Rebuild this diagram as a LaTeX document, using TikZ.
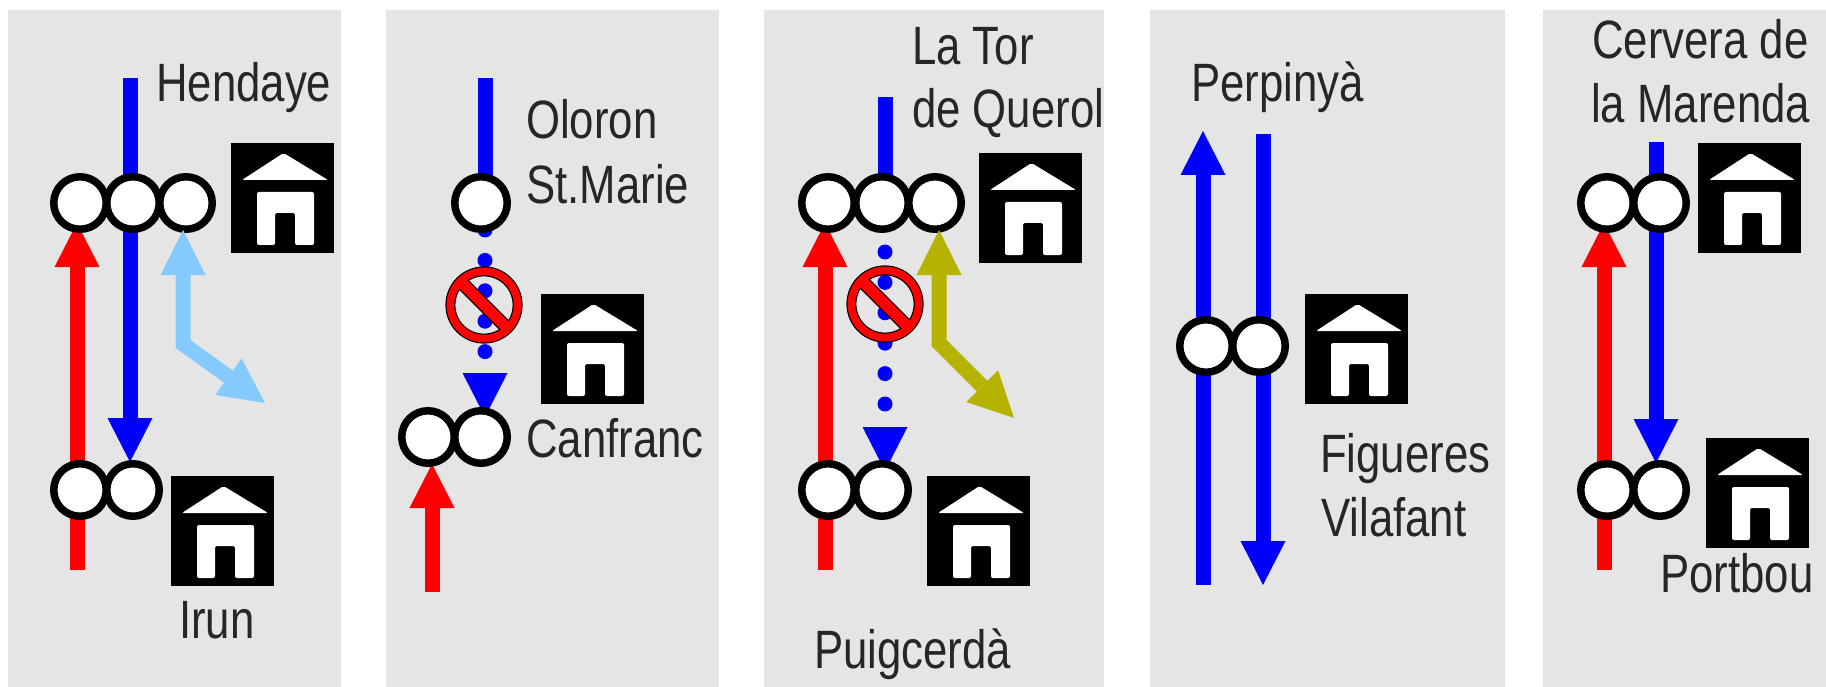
\documentclass[tikz,border=0pt]{standalone}
\usepackage{fontspec}
\usepackage{graphicx}
\setmainfont{Liberation Sans}
\usetikzlibrary{arrows.meta}
\definecolor{panelgrey}{HTML}{E5E5E5}
\definecolor{skyarrow}{HTML}{85CAFF}
\definecolor{olivearrow}{HTML}{B5B300}
\definecolor{labeltext}{HTML}{262626}
\newcommand{\lab}[1]{\scalebox{.81}[1]{#1}}
\tikzset{
  panel/.style={fill=panelgrey},
  stn/.style={circle,draw=black,fill=white,line width=7.5pt,minimum size=52.5pt,inner sep=0pt},
  trk/.style={line width=15pt,line cap=butt},
  headed/.style={trk,-{Triangle[length=44pt,width=45pt,line width=0pt]}},
  twohead/.style={trk,miter limit=10,{Triangle[length=45pt,width=45pt,line width=0pt]}-{Triangle[length=45pt,width=45pt,line width=0pt]}},
  dotted track/.style={line width=15pt,line cap=round,dash pattern=on 0pt off 30.4pt,-{Triangle[length=44pt,width=45pt,line width=0pt]}},
  lbl/.style={anchor=base west,inner sep=0pt,text=labeltext,font=\fontsize{54}{54}\selectfont},
  house/.pic={
    \fill[black] (0,0) rectangle (103,110);
    \fill[white,rounded corners=2pt] (11,37) -- (52.5,10) -- (97,37) -- cycle;
    \fill[white,rounded corners=2pt] (26,102) -- (26,49) -- (83,49) -- (83,102) -- (64,102) -- (64,70) -- (44,70) -- (44,102) -- cycle;
  },
  noentry/.pic={
    \draw[black,line width=10pt] (0,0) circle (33.6);
    \draw[black,line width=13.5pt] (-24,-24) -- (24,24);
    \draw[red,line width=7.6pt] (0,0) circle (33.6);
    \draw[red,line width=11pt] (-25,-25) -- (25,25);
  }
}
\begin{document}
\begin{tikzpicture}[x=1pt,y=-1pt]
\useasboundingbox (0,0) rectangle (1826,687);
% panels
\fill[panel] (8,10) rectangle (341,687);
\fill[panel] (386,10) rectangle (719,687);
\fill[panel] (764,10) rectangle (1104,687);
\fill[panel] (1150,10) rectangle (1505,687);
\fill[panel] (1543,10) rectangle (1826,687);

% --- panel 1
\coordinate (aBT) at (130,78);  \coordinate (aBE) at (130,462);
\coordinate (aRS) at (77,570);  \coordinate (aRE) at (77,223);
\coordinate (aLT) at (183,230); \coordinate (aLC) at (183,344); \coordinate (aLE) at (265,403);
\draw[headed,blue] (aBT) -- (aBE);
\draw[headed,red] (aRS) -- (aRE);
\node[stn] (a1) at (80,203) {};
\node[stn] (a2) at (133,203) {};
\node[stn] (a3) at (186,203) {};
\node[stn] (a4) at (80,490) {};
\node[stn] (a5) at (133,490) {};
\draw[twohead,skyarrow] (aLT) -- (aLC) -- (aLE);
\pic at (231,143) {house};
\pic at (171,476) {house};
\node[lbl] (hendaye) at (156,102) {\lab{Hendaye}};
\node[lbl] (irun) at (179,638) {\lab{Irun}};

% --- panel 2
\coordinate (bBT) at (485,78);  \coordinate (bBM) at (485,203);
\coordinate (bDS) at (485,230); \coordinate (bDE) at (485,417);
\coordinate (bRS) at (432,592); \coordinate (bRE) at (432,464);
\draw[trk,blue] (bBT) -- (bBM);
\draw[dotted track,blue] (bDS) -- (bDE);
\draw[headed,red] (bRS) -- (bRE);
\node[stn] (b1) at (481,203) {};
\node[stn] (b2) at (428,437) {};
\node[stn] (b3) at (481,437) {};
\pic at (484,305) {noentry};
\pic at (541,294) {house};
\node[lbl] (oloron) at (526,139) {\lab{Oloron}};
\node[lbl] (stmarie) at (526,204) {\lab{St.Marie}};
\node[lbl] (canfranc) at (526,457) {\lab{Canfranc}};

% --- panel 3
\coordinate (cBT) at (885,97);  \coordinate (cBM) at (885,203);
\coordinate (cDS) at (885,252); \coordinate (cDE) at (885,471);
\coordinate (cRS) at (825,570); \coordinate (cRE) at (825,223);
\coordinate (cOT) at (939,230); \coordinate (cOC) at (939,343); \coordinate (cOE) at (1014,418);
\draw[trk,blue] (cBT) -- (cBM);
\draw[dotted track,blue] (cDS) -- (cDE);
\draw[headed,red] (cRS) -- (cRE);
\node[stn] (c1) at (828,203) {};
\node[stn] (c2) at (882,203) {};
\node[stn] (c3) at (935,203) {};
\node[stn] (c4) at (828,490) {};
\node[stn] (c5) at (882,490) {};
\draw[twohead,olivearrow] (cOT) -- (cOC) -- (cOE);
\pic at (885,304) {noentry};
\pic at (979,153) {house};
\pic at (927,476) {house};
\node[lbl] (latour) at (912,65) {\lab{La Tor}};
\node[lbl] (querol) at (912,128) {\lab{de Querol}};
\node[lbl] (puig) at (814,668) {\lab{Puigcerdà}};

% --- panel 4
\coordinate (dLS) at (1203,585); \coordinate (dLE) at (1203,131);
\coordinate (dRS) at (1263,134); \coordinate (dRE) at (1263,585);
\draw[headed,blue] (dLS) -- (dLE);
\draw[headed,blue] (dRS) -- (dRE);
\node[stn] (d1) at (1206,346) {};
\node[stn] (d2) at (1259,346) {};
\pic at (1305,294) {house};
\node[lbl] (perp) at (1191,102) {\lab{Perpinyà}};
\node[lbl] (fig) at (1320,472) {\lab{Figueres}};
\node[lbl] (vila) at (1321,536) {\lab{Vilafant}};

% --- panel 5
\coordinate (eRS) at (1604,570); \coordinate (eRE) at (1604,223);
\coordinate (eBT) at (1656,142); \coordinate (eBE) at (1656,463);
\draw[headed,red] (eRS) -- (eRE);
\draw[headed,blue] (eBT) -- (eBE);
\node[stn] (e1) at (1607,203) {};
\node[stn] (e2) at (1660,203) {};
\node[stn] (e3) at (1607,490) {};
\node[stn] (e4) at (1660,490) {};
\pic at (1698,143) {house};
\pic at (1706,438) {house};
\node[lbl] (cerv) at (1592,59) {\lab{Cervera de}};
\node[lbl] (mar) at (1591,123) {\lab{la Marenda}};
\node[lbl] (port) at (1660,592) {\lab{Portbou}};
\end{tikzpicture}
\end{document}
